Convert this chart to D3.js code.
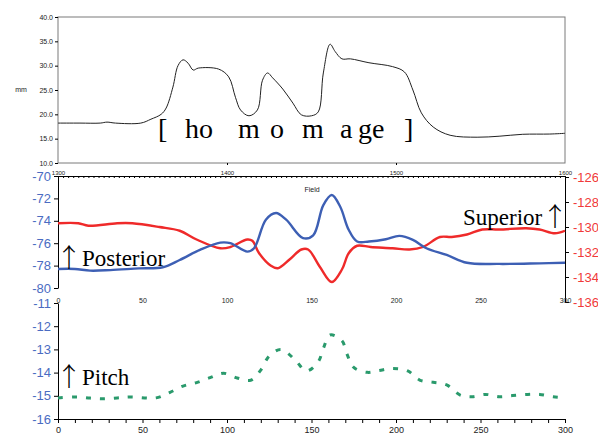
<!DOCTYPE html>
<html>
<head>
<meta charset="utf-8">
<script src="https://cdn.jsdelivr.net/npm/d3@7"></script>
<style>
  body { margin: 0; background: #fff; }
  svg { display: block; font-family: Arial, "Liberation Sans", sans-serif; }
  .serif { font-family: "Liberation Serif", "Times New Roman", serif; }
  .arrow { font-family: "Noto Sans CJK JP", "DejaVu Sans", sans-serif; font-weight: 300; }
</style>
</head>
<body>
<div id="chart"></div>
<script>
// top panel: thickness (mm) vs field
const fieldTop = [1300, 1313, 1325, 1329, 1334, 1349, 1355, 1361, 1364, 1368, 1371, 1374, 1377, 1380, 1383,
  1395, 1401, 1405, 1408, 1413, 1418, 1421, 1424, 1427, 1433, 1439, 1444, 1450, 1454, 1457, 1461, 1464,
  1468, 1473, 1484, 1498, 1505, 1510, 1515, 1522, 1532, 1548, 1561, 1575, 1591, 1600];
const thicknessMm = [18.2, 18.2, 18.2, 18.4, 18.2, 18.2, 19.0, 20.0, 21.3, 25.6, 30.0, 31.2, 30.5, 29.1, 29.5,
  29.3, 27.7, 23.5, 20.9, 19.7, 20.9, 27.0, 28.5, 27.5, 25.2, 22.3, 19.9, 19.7, 20.5, 28.5, 34.4, 32.9,
  31.4, 31.4, 30.6, 29.8, 28.7, 25.0, 20.3, 17.4, 15.7, 15.3, 15.5, 15.9, 15.95, 16.1];
const topTicksY = [10, 15, 20, 25, 30, 35, 40];
const topTicksX = [1300, 1400, 1500, 1600];

// middle panel: posterior (left axis) and superior (right axis)
const fieldPost = [0, 10, 19, 31, 48, 62, 72, 84, 96, 102, 112, 116, 123, 129, 135, 145, 151, 157, 162, 167,
  172, 177, 184, 194, 202, 210, 218, 230, 242, 261, 285, 300];
const posterior = [-78.3, -78.3, -78.45, -78.4, -78.25, -78.15, -77.5, -76.6, -75.95, -76.0, -76.75, -76.45,
  -73.9, -73.3, -73.9, -75.55, -75.3, -72.6, -71.7, -72.75, -74.8, -75.85, -75.85, -75.65, -75.35, -75.7,
  -76.45, -77.05, -77.75, -77.85, -77.8, -77.75];
const fieldSup = [0, 12, 18, 35, 44, 60, 72, 82, 96, 102, 112, 115, 119, 126, 130, 137, 144, 148, 155, 162,
  168, 172, 177, 185, 198, 208, 216, 226, 233, 242, 251, 261, 277, 285, 294, 300];
const superior = [-129.7, -129.7, -129.9, -129.7, -129.7, -130.0, -130.3, -131.0, -131.7, -131.6, -131.0,
  -131.1, -132.1, -133.1, -133.3, -132.6, -131.8, -131.8, -133.2, -134.4, -133.4, -132.1, -131.5, -131.6,
  -131.7, -131.8, -131.6, -130.8, -130.8, -130.6, -130.2, -130.2, -130.1, -130.2, -130.5, -130.3];
const postTicks = [-80, -78, -76, -74, -72, -70];
const supTicks = [-136, -134, -132, -130, -128, -126];

// bottom panel: pitch
const fieldPitch = [0, 11, 19, 27, 35, 43, 58, 66, 74, 82, 90, 98, 106, 114, 120, 125, 132, 140, 147, 154,
  157, 161, 168, 171, 175, 183, 190, 198, 207, 214, 222, 230, 238, 245, 253, 261, 269, 278, 285, 293, 300];
const pitch = [-15.09, -15.05, -15.1, -15.13, -15.09, -15.05, -15.09, -14.86, -14.58, -14.43, -14.22, -14.03,
  -14.23, -14.33, -13.89, -13.28, -13.0, -13.43, -13.93, -13.53, -12.96, -12.38, -12.63, -13.2, -13.78,
  -13.99, -13.91, -13.82, -13.93, -14.32, -14.42, -14.53, -14.97, -15.04, -14.94, -15.04, -14.99, -14.94,
  -14.94, -15.04, -15.08];
const pitchTicks = [-16, -15, -14, -13, -12, -11];
const fieldTicks = [0, 50, 100, 150, 200, 250, 300];

const blueText = "#4a6cc2", redText = "#f03a3a";
const plain = d => String(d);

const svg = d3.select("#chart").append("svg")
  .attr("width", 598).attr("height", 435);
svg.append("rect").attr("width", 598).attr("height", 435).attr("fill", "#fff");

// ---------- top panel ----------
const xTop = d3.scaleLinear().domain([1300, 1600]).range([58, 565]);
const yTop = d3.scaleLinear().domain([10, 40]).range([163, 17]);

svg.append("rect")
  .attr("x", 58).attr("y", 17).attr("width", 507).attr("height", 146)
  .attr("fill", "none").attr("stroke", "#7a7a7a").attr("stroke-width", 1);

svg.append("g")
  .attr("transform", "translate(58,0)")
  .call(d3.axisLeft(yTop).tickValues(topTicksY).tickFormat(d3.format(".1f")).tickSize(3).tickPadding(2))
  .call(g => g.select(".domain").remove())
  .call(g => g.selectAll("text").style("font-size", "7px").attr("fill", "#222"));

svg.append("text").attr("x", 21).attr("y", 92).attr("text-anchor", "middle")
  .style("font-size", "7px").attr("fill", "#222").text("mm");

svg.append("g")
  .attr("transform", "translate(0,163)")
  .call(d3.axisBottom(xTop).tickValues([1400, 1500]).tickFormat("").tickSize(2))
  .call(g => g.select(".domain").remove());

// field axis with minor ticks
svg.append("g")
  .attr("transform", "translate(0,176)")
  .call(d3.axisBottom(xTop).tickValues(d3.range(1300, 1601, 3)).tickFormat("").tickSize(2).tickSizeOuter(0))
  .call(g => g.select(".domain").attr("stroke-width", 1.2));
svg.append("g")
  .attr("transform", "translate(0,176)")
  .call(d3.axisTop(xTop).tickValues(topTicksX).tickSize(0).tickPadding(1).tickFormat(plain))
  .call(g => g.select(".domain").remove())
  .call(g => g.selectAll("text").style("font-size", "6px").attr("fill", "#222"));

svg.append("path")
  .datum(fieldTop.map((f, i) => [f, thicknessMm[i]]))
  .attr("fill", "none").attr("stroke", "#222").attr("stroke-width", 1)
  .attr("d", d3.line().x(d => xTop(d[0])).y(d => yTop(d[1])).curve(d3.curveCatmullRom));

const hom = [["[", 158], ["ho", 185], ["m", 238], ["o", 270], ["m", 302], ["a", 340], ["ge", 358], ["]", 404]];
svg.selectAll(".hom").data(hom).enter().append("text")
  .attr("class", "serif")
  .attr("x", d => d[1]).attr("y", 138)
  .style("font-size", "28px").attr("fill", "#000")
  .text(d => d[0]);

// ---------- middle panel ----------
const xMid = d3.scaleLinear().domain([0, 300]).range([58, 565]);
const yPost = d3.scaleLinear().domain([-80, -70]).range([288, 176]);
const ySup = d3.scaleLinear().domain([-136, -126]).range([302, 177]);

svg.append("g")
  .attr("transform", "translate(58,0)")
  .call(d3.axisLeft(yPost).tickValues(postTicks).tickSize(4).tickPadding(3).tickSizeOuter(0).tickFormat(plain))
  .call(g => g.selectAll("text").style("font-size", "13px").attr("fill", blueText));

svg.append("g")
  .attr("transform", "translate(565,0)")
  .call(d3.axisRight(ySup).tickValues(supTicks).tickSize(4).tickPadding(4).tickSizeOuter(0).tickFormat(plain))
  .call(g => g.selectAll("text").style("font-size", "13px").attr("fill", redText));

svg.append("g")
  .attr("transform", "translate(0,296)")
  .call(d3.axisBottom(xMid).tickValues(fieldTicks).tickSize(0).tickPadding(2).tickFormat(plain))
  .call(g => g.select(".domain").remove())
  .call(g => g.selectAll("text").style("font-size", "7px").attr("fill", "#222"));

svg.append("text").attr("x", 312).attr("y", 192).attr("text-anchor", "middle")
  .style("font-size", "7px").attr("fill", "#222").text("Field");

svg.append("path")
  .datum(fieldSup.map((f, i) => [f, superior[i]]))
  .attr("fill", "none").attr("stroke", "#ef2a2a").attr("stroke-width", 2.4)
  .attr("d", d3.line().x(d => xMid(d[0])).y(d => ySup(d[1])).curve(d3.curveCatmullRom));

svg.append("path")
  .datum(fieldPost.map((f, i) => [f, posterior[i]]))
  .attr("fill", "none").attr("stroke", "#3d5fb4").attr("stroke-width", 2.4)
  .attr("d", d3.line().x(d => xMid(d[0])).y(d => yPost(d[1])).curve(d3.curveCatmullRom));

svg.append("text").attr("class", "arrow").attr("x", 69).attr("y", 267).attr("text-anchor", "middle")
  .style("font-size", "26px").text("↑");
svg.append("text").attr("class", "serif").attr("x", 82).attr("y", 266)
  .style("font-size", "23px").text("Posterior");
svg.append("text").attr("class", "serif").attr("x", 463).attr("y", 225)
  .style("font-size", "23px").text("Superior");
svg.append("text").attr("class", "arrow").attr("x", 555).attr("y", 226).attr("text-anchor", "middle")
  .style("font-size", "26px").text("↑");

// ---------- bottom panel ----------
const yPitch = d3.scaleLinear().domain([-16, -11]).range([419, 303]);

svg.append("g")
  .attr("transform", "translate(58,0)")
  .call(d3.axisLeft(yPitch).tickValues(pitchTicks).tickSize(4).tickPadding(3).tickSizeOuter(0).tickFormat(plain))
  .call(g => g.selectAll("text").style("font-size", "13px").attr("fill", blueText));

svg.append("g")
  .attr("transform", "translate(0,419)")
  .call(d3.axisBottom(xMid).tickValues(d3.range(0, 301, 10)).tickSize(4).tickPadding(4).tickSizeOuter(0)
    .tickFormat(d => d % 50 === 0 ? String(d) : ""))
  .call(g => g.selectAll("text").style("font-size", "9px").attr("fill", "#222"));

svg.append("path")
  .datum(fieldPitch.map((f, i) => [f, pitch[i]]))
  .attr("fill", "none").attr("stroke", "#2a9a6c").attr("stroke-width", 3)
  .attr("stroke-dasharray", "5,9")
  .attr("d", d3.line().x(d => xMid(d[0])).y(d => yPitch(d[1])).curve(d3.curveCatmullRom));

svg.append("text").attr("class", "arrow").attr("x", 69).attr("y", 386).attr("text-anchor", "middle")
  .style("font-size", "26px").text("↑");
svg.append("text").attr("class", "serif").attr("x", 82).attr("y", 385)
  .style("font-size", "23px").text("Pitch");
</script>
</body>
</html>
